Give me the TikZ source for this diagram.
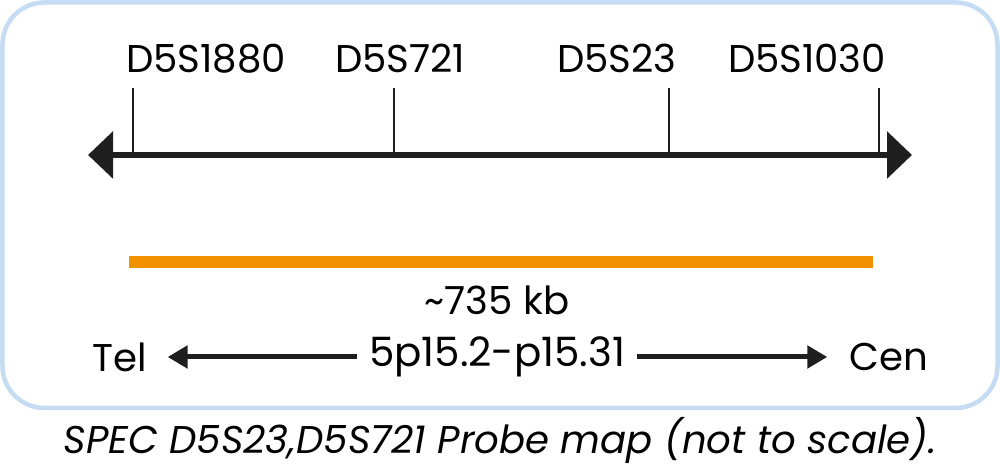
\documentclass[tikz,border=0pt]{standalone}
\usepackage{fontspec}
\setmainfont{Poppins}
\usepackage{xcolor}
\usepackage{tikz}
\usetikzlibrary{arrows.meta,positioning}

\definecolor{framblue}{RGB}{197,220,243}
\definecolor{probeorange}{RGB}{242,146,0}

\begin{document}
\begin{tikzpicture}[
    font=\fontsize{11}{13}\selectfont,
    frame/.style={draw=framblue, line width=0.045cm, rounded corners=0.42cm},
    axis/.style={{Triangle[length=0.25cm,width=0.46cm]}-{Triangle[length=0.25cm,width=0.46cm]}, line width=0.06cm, black!88},
    tick/.style={line width=0.028cm, black!88},
    marker/.style={inner sep=0pt, anchor=base},
    probe/.style={line width=0.12cm, probeorange},
    larrow/.style={-{Triangle[length=0.2cm,width=0.22cm]}, line width=0.05cm, black!88},
    caption/.style={font=\fontsize{11}{13}\selectfont\itshape},
]
\useasboundingbox (0,0) rectangle (10,-4.69);
\draw[frame] (0.025,-0.025) rectangle (9.975,-4.08);

% marker labels
\node[marker] (m1) at (2.06,-0.73) {D5S1880};
\node[marker] (m2) at (4.00,-0.73) {D5S721};
\node[marker] (m3) at (6.17,-0.73) {D5S23};
\node[marker] (m4) at (8.07,-0.73) {D5S1030};

% chromosome axis
\coordinate (left) at (0.88,-1.55);
\coordinate (right) at (9.12,-1.55);
\draw[axis] (left) -- (right);
\coordinate (t1) at (1.33,-1.55);
\coordinate (t2) at (3.94,-1.55);
\coordinate (t3) at (6.69,-1.55);
\coordinate (t4) at (8.79,-1.55);
\draw[tick] (t1) -- ++(0,0.67);
\draw[tick] (t2) -- ++(0,0.67);
\draw[tick] (t3) -- ++(0,0.67);
\draw[tick] (t4) -- ++(0,0.67);

% probe
\coordinate (p1) at (1.29,-2.62);
\coordinate (p2) at (8.73,-2.62);
\draw[probe] (p1) -- (p2);
\node (size) at (4.97,-3.00) {\textasciitilde 735 kb};

% orientation
\node[font=\fontsize{11.5}{13}\selectfont] (loc) at (4.97,-3.57) {5p15.2-p15.31};
\node (tel) at (1.20,-3.57) {Tel};
\node (cen) at (8.89,-3.57) {Cen};
\draw[larrow, shorten >=0.08cm] (loc) -- (tel);
\draw[larrow, shorten >=0.1cm] (loc) -- (cen);

\node[caption] (cap) at (5.00,-4.40) {SPEC D5S23,D5S721 Probe map (not to scale).};
\end{tikzpicture}
\end{document}
